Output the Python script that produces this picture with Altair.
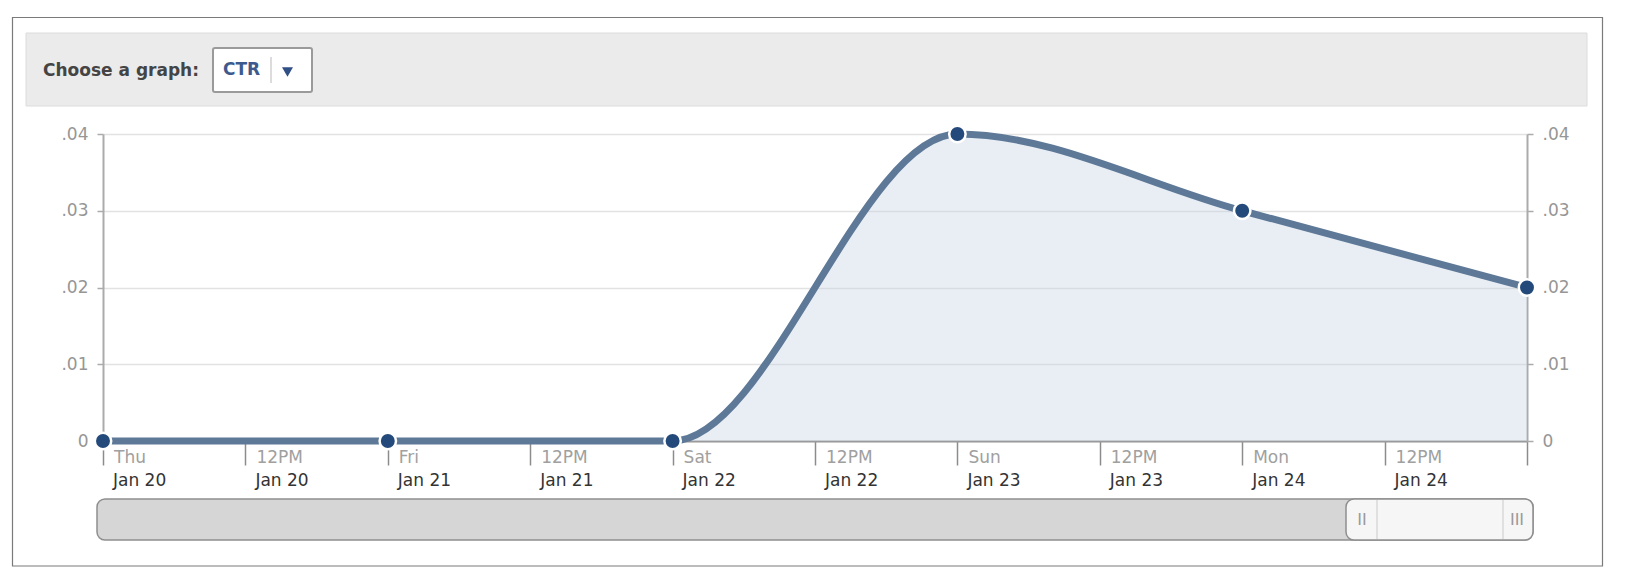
import altair as alt
import pandas as pd

# ---- data ----
dates = ["2011-01-20T00:00", "2011-01-21T00:00", "2011-01-22T00:00",
         "2011-01-23T00:00", "2011-01-24T00:00", "2011-01-25T00:00"]
ctr = [0.0, 0.0, 0.0, 0.04, 0.03, 0.02]

tick_times = ["2011-01-20T00:00", "2011-01-20T12:00", "2011-01-21T00:00", "2011-01-21T12:00",
              "2011-01-22T00:00", "2011-01-22T12:00", "2011-01-23T00:00", "2011-01-23T12:00",
              "2011-01-24T00:00", "2011-01-24T12:00"]
tick_top = ["Thu", "12PM", "Fri", "12PM", "Sat", "12PM", "Sun", "12PM", "Mon", "12PM"]
tick_bottom = ["Jan 20", "Jan 20", "Jan 21", "Jan 21", "Jan 22", "Jan 22",
               "Jan 23", "Jan 23", "Jan 24", "Jan 24"]
x_domain = ["2011-01-20T00:00", "2011-01-25T00:00"]
y_ticks = [0, 0.01, 0.02, 0.03, 0.04]

df = pd.DataFrame({"date": dates, "ctr": ctr})
ticks_df = pd.DataFrame({"date": tick_times, "top": tick_top, "bottom": tick_bottom})
one = pd.DataFrame({"k": [0]})

FONT = "DejaVu Sans"
W, H = 1424, 307

def dt(s):
    d, t = s.split("T")
    y, m, dd = d.split("-")
    hh, mm = t.split(":")
    return alt.DateTime(year=int(y), month=int(m), date=int(dd), hours=int(hh), minutes=int(mm))

x_tick_values = [dt(s) for s in tick_times] + [dt(x_domain[1])]
xscale = alt.Scale(domain=[dt(x_domain[0]), dt(x_domain[1])])
yscale = alt.Scale(domain=[0, 0.04], nice=False, zero=True)

label_expr = "datum.value == 0 ? '0' : replace(format(datum.value, '.2f'), '0.', '.')"

x_axis = alt.Axis(values=x_tick_values, labels=False, title=None, grid=False,
                  domainColor="#9a9a9a", domainWidth=2, tickColor="#8c8c8c",
                  tickWidth=1.5, tickSize=24)

left_axis = alt.Axis(orient="left", values=y_ticks, title=None, grid=True,
                     gridColor="#e2e2e2", gridWidth=1.5, domainColor="#ababab",
                     domainWidth=2, tickColor="#ababab", tickSize=6, tickWidth=1.5,
                     labelColor="#969696", labelFont=FONT, labelFontSize=17,
                     labelPadding=9, labelExpr=label_expr)
right_axis = alt.Axis(orient="right", values=y_ticks, title=None, grid=False,
                      domainColor="#ababab", domainWidth=2, tickColor="#ababab",
                      tickSize=6, tickWidth=1.5, labelColor="#969696", labelFont=FONT,
                      labelFontSize=17, labelPadding=9, labelExpr=label_expr)

base = alt.Chart(df)

area = base.mark_area(interpolate="monotone", color="#c9d4e5", opacity=0.4).encode(
    x=alt.X("date:T", scale=xscale, axis=x_axis),
    y=alt.Y("ctr:Q", scale=yscale, axis=left_axis),
)
line = base.mark_line(interpolate="monotone", color="#5e7998", strokeWidth=7).encode(
    x=alt.X("date:T", scale=xscale),
    y=alt.Y("ctr:Q", scale=yscale, axis=None),
)
points = base.mark_circle(size=270, color="#244a7b", opacity=1, stroke="white",
                          strokeWidth=2.5).encode(
    x=alt.X("date:T", scale=xscale),
    y=alt.Y("ctr:Q", scale=yscale, axis=right_axis),
)

top_labels = alt.Chart(ticks_df).mark_text(
    align="left", baseline="middle", dx=11, font=FONT, fontSize=17, color="#a0a0a0"
).encode(x=alt.X("date:T", scale=xscale), y=alt.value(324), text="top:N")
bottom_labels = alt.Chart(ticks_df).mark_text(
    align="left", baseline="middle", dx=10, font=FONT, fontSize=17, color="#333333"
).encode(x=alt.X("date:T", scale=xscale), y=alt.value(347), text="bottom:N")

# ---- page decoration (frame, header, dropdown, scrollbar) ----
frame = alt.Chart(one).mark_rect(fillOpacity=0, stroke="#7a7a7a", strokeWidth=1.2).encode(
    x=alt.value(-90.5), x2=alt.value(1499.5), y=alt.value(-116.5), y2=alt.value(432))
header = alt.Chart(one).mark_rect(fill="#ebebeb", stroke="#dcdcdc", strokeWidth=1).encode(
    x=alt.value(-77), x2=alt.value(1484), y=alt.value(-101), y2=alt.value(-28))
choose = alt.Chart(one).mark_text(
    align="left", baseline="middle", font=FONT, fontSize=17, fontWeight="bold", color="#444444"
).encode(x=alt.value(-60), y=alt.value(-63), text=alt.value("Choose a graph:"))
box = alt.Chart(one).mark_rect(fill="white", stroke="#9a9a9a", strokeWidth=2, cornerRadius=2).encode(
    x=alt.value(110), x2=alt.value(209), y=alt.value(-86), y2=alt.value(-42))
ctr_text = alt.Chart(one).mark_text(
    align="left", baseline="middle", font=FONT, fontSize=17, fontWeight="bold", color="#3d5a8f"
).encode(x=alt.value(120), y=alt.value(-64), text=alt.value("CTR"))
sep = alt.Chart(one).mark_rule(color="#d0d0d0", strokeWidth=1.5).encode(
    x=alt.value(168), y=alt.value(-77), y2=alt.value(-51))
tri = alt.Chart(one).mark_point(shape="triangle-down", filled=True, size=120, color="#2f4f85", opacity=1).encode(
    x=alt.value(184.5), y=alt.value(-62))

track = alt.Chart(one).mark_rect(fill="#d6d6d6", stroke="#8e8e8e", strokeWidth=1.5, cornerRadius=8).encode(
    x=alt.value(-6), x2=alt.value(1430), y=alt.value(365), y2=alt.value(406))
thumb = alt.Chart(one).mark_rect(fill="#f6f6f6", stroke="#8e8e8e", strokeWidth=1.5, cornerRadius=8).encode(
    x=alt.value(1243), x2=alt.value(1430), y=alt.value(365), y2=alt.value(406))
tsep1 = alt.Chart(one).mark_rule(color="#d9d9d9", strokeWidth=1.5).encode(
    x=alt.value(1274), y=alt.value(366), y2=alt.value(405))
tsep2 = alt.Chart(one).mark_rule(color="#d9d9d9", strokeWidth=1.5).encode(
    x=alt.value(1400), y=alt.value(366), y2=alt.value(405))
grip1 = alt.Chart(one).mark_text(align="center", baseline="middle", font=FONT, fontSize=16, color="#9a9a9a").encode(
    x=alt.value(1259), y=alt.value(386), text=alt.value("II"))
grip2 = alt.Chart(one).mark_text(align="center", baseline="middle", font=FONT, fontSize=16, color="#9a9a9a").encode(
    x=alt.value(1414), y=alt.value(386), text=alt.value("III"))

chart = alt.layer(
    frame, header, choose, box, ctr_text, sep, tri,
    track, thumb, tsep1, tsep2, grip1, grip2,
    area, line, points, top_labels, bottom_labels,
).resolve_scale(y="independent").resolve_axis(y="independent").properties(
    width=W, height=H,
    autosize=alt.AutoSizeParams(type="none"),
    padding={"left": 95, "top": 126, "right": 102, "bottom": 138},
    background="white",
).configure_view(stroke=None)

chart.save("out.html", embed_options={"renderer": "svg", "actions": False})
